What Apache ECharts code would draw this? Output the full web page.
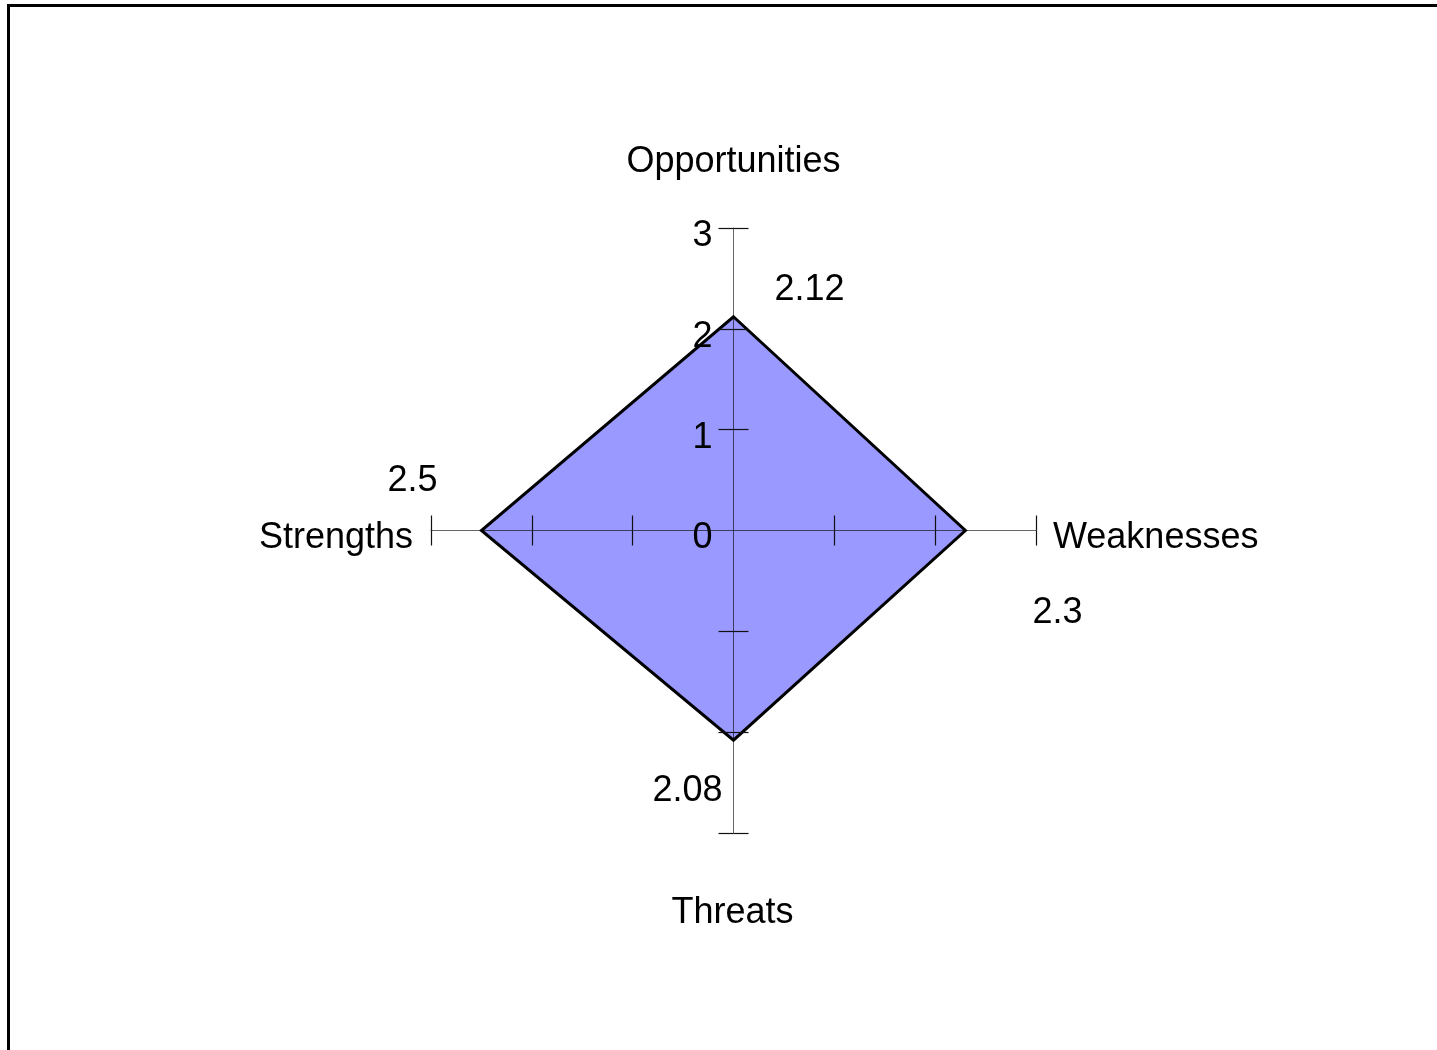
<!DOCTYPE html>
<html>
<head>
<meta charset="utf-8">
<script src="https://cdn.jsdelivr.net/npm/echarts@6/dist/echarts.min.js"></script>
<style>
html,body{margin:0;padding:0;background:#fff;}
#chart{width:1437px;height:1050px;}
</style>
</head>
<body>
<div id="chart"></div>
<script>
// ---- data ----
const categories = ['Opportunities', 'Weaknesses', 'Threats', 'Strengths'];
const values = [2.12, 2.3, 2.08, 2.5];
const axisMax = 3;
const tickLabels = [0, 1, 2, 3];

// ---- layout / style (not data) ----
const directions = [[0, 1], [1, 0], [0, -1], [-1, 0]];
const valueLabelOffsets = [[76, -27], [92, 83], [-46, 51], [-69, -49]];
const nameLabelStyles = [
  { align: 'center', offset: [0, -66] },
  { align: 'left', offset: [17, 8] },
  { align: 'center', offset: [-1, 80] },
  { align: 'right', offset: [-18, 8] }
];
const FONT = "'Liberation Sans', Arial, sans-serif";
const FS = 36;

const vertexPoints = values.map((v, i) => [directions[i][0] * v, directions[i][1] * v]);
const endPoints = directions.map(d => [d[0] * axisMax, d[1] * axisMax]);
const tickLabelPoints = tickLabels.map(t => [0, t]);
const tickValues = [];
for (let t = -axisMax; t <= axisMax; t++) if (t !== 0) tickValues.push(t);

const chart = echarts.init(document.getElementById('chart'), null, { renderer: 'canvas' });

function valueAxis(pos, showLine) {
  return {
    type: 'value',
    position: pos,
    min: -axisMax,
    max: axisMax,
    interval: 1,
    z: 5,
    splitLine: { show: false },
    axisLine: {
      show: true,
      onZero: true,
      lineStyle: { color: showLine ? 'rgba(0,0,0,0.6)' : 'rgba(0,0,0,0)', width: 1 }
    },
    axisTick: {
      show: true,
      inside: false,
      length: 15,
      customValues: tickValues,
      lineStyle: { color: '#111', width: 1.2 }
    },
    axisLabel: { show: false }
  };
}

const textLabel = {
  show: true,
  position: 'inside',
  color: '#000',
  fontFamily: FONT,
  fontSize: FS,
  textBorderWidth: 0
};

const option = {
  backgroundColor: '#fff',
  animation: false,
  graphic: [{
    type: 'rect',
    shape: { x: 8.5, y: 5.5, width: 3000, height: 3000 },
    style: { fill: 'none', stroke: '#000', lineWidth: 3 },
    silent: true,
    z: 100
  }],
  grid: { left: 431, top: 228, width: 605, height: 605 },
  xAxis: [valueAxis('bottom', true), valueAxis('top', false)],
  yAxis: [valueAxis('left', true), valueAxis('right', false)],
  series: [
    {
      type: 'custom',
      xAxisIndex: 0,
      yAxisIndex: 0,
      z: 1,
      data: [0],
      renderItem: function (params, api) {
        const pts = vertexPoints.map(p => api.coord(p));
        return {
          type: 'polygon',
          shape: { points: pts },
          style: { fill: '#9999ff', stroke: '#000', lineWidth: 3, lineJoin: 'miter' }
        };
      },
      silent: true
    },
    {
      type: 'scatter',
      xAxisIndex: 0,
      yAxisIndex: 0,
      symbolSize: 0,
      z: 6,
      itemStyle: { opacity: 1, color: 'rgba(0,0,0,0)' },
      data: vertexPoints.map((p, i) => ({
        value: p,
        label: { offset: valueLabelOffsets[i] }
      })),
      label: Object.assign({}, textLabel, {
        formatter: function (p) { return String(values[p.dataIndex]); }
      }),
      silent: true
    },
    {
      type: 'scatter',
      xAxisIndex: 0,
      yAxisIndex: 0,
      symbolSize: 0,
      z: 6,
      itemStyle: { opacity: 1, color: 'rgba(0,0,0,0)' },
      data: endPoints.map((p, i) => ({
        value: p,
        label: { align: nameLabelStyles[i].align, offset: nameLabelStyles[i].offset }
      })),
      label: Object.assign({}, textLabel, {
        formatter: function (p) { return categories[p.dataIndex]; }
      }),
      silent: true
    },
    {
      type: 'scatter',
      xAxisIndex: 0,
      yAxisIndex: 0,
      symbolSize: 0,
      z: 6,
      itemStyle: { opacity: 1, color: 'rgba(0,0,0,0)' },
      data: tickLabelPoints,
      label: Object.assign({}, textLabel, {
        align: 'right',
        offset: [-21, 8],
        formatter: function (p) { return String(tickLabels[p.dataIndex]); }
      }),
      silent: true
    }
  ]
};
chart.setOption(option);
</script>
</body>
</html>
